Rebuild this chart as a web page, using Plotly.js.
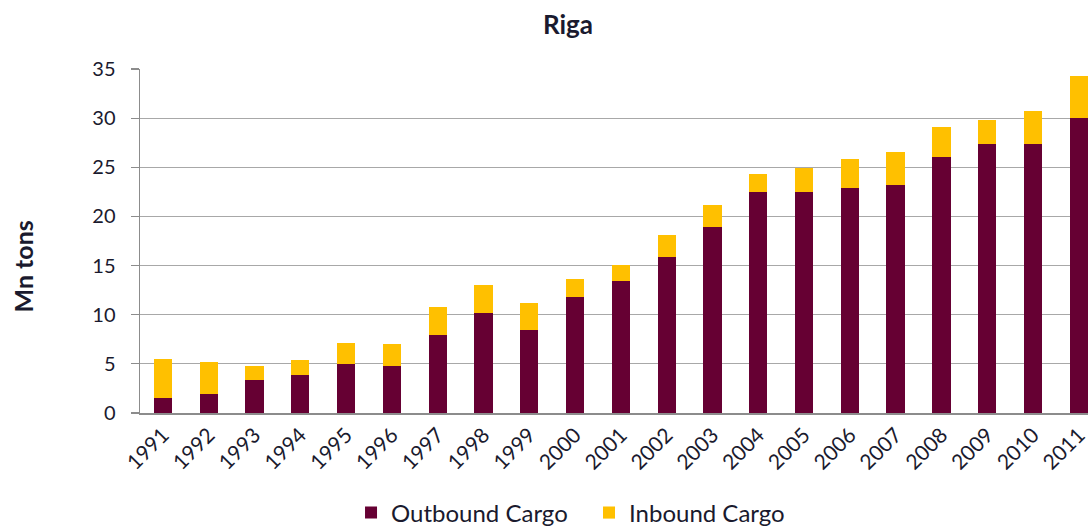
<!DOCTYPE html>
<html>
<head>
<meta charset="utf-8">
<script src="https://cdn.plot.ly/plotly-3.0.1.min.js"></script>
<style>
  html, body { margin: 0; padding: 0; background: #ffffff; }
  #chart { width: 1088px; height: 526px; }
</style>
</head>
<body>
<div id="chart"></div>
<script>
// Riga port cargo turnover, million tons
const years = ['1991','1992','1993','1994','1995','1996','1997','1998','1999','2000',
               '2001','2002','2003','2004','2005','2006','2007','2008','2009','2010','2011'];
const outboundCargo = [1.5, 1.9, 3.4, 3.9, 5.0, 4.8, 7.9, 10.2, 8.4, 11.8,
                       13.4, 15.9, 18.9, 22.5, 22.5, 22.9, 23.2, 26.0, 27.4, 27.4, 30.0];
const inboundCargo  = [4.0, 3.3, 1.4, 1.5, 2.1, 2.2, 2.9, 2.8, 2.8, 1.8,
                       1.7, 2.2, 2.3, 1.8, 2.4, 2.9, 3.4, 3.1, 2.4, 3.3, 4.3];
const yTicks = [0, 5, 10, 15, 20, 25, 30, 35];

const FONT = 'Lato, "Open Sans", sans-serif';
const TEXT = '#1a1a2e';

const traces = [
  {
    type: 'bar', name: 'Outbound Cargo', x: years, y: outboundCargo,
    marker: { color: '#660033' }, hoverinfo: 'x+y+name'
  },
  {
    type: 'bar', name: 'Inbound Cargo', x: years, y: inboundCargo,
    marker: { color: '#FFC000' }, hoverinfo: 'x+y+name'
  }
];

const layout = {
  width: 1088, height: 526,
  margin: { l: 140, r: 0, t: 69, b: 113 },
  paper_bgcolor: '#ffffff', plot_bgcolor: '#ffffff',
  barmode: 'stack', bargap: 0.6,
  font: { family: FONT, color: TEXT, size: 18 },
  title: {
    text: '<b>Riga</b>', font: { family: FONT, size: 26, color: TEXT },
    x: 0.522, xref: 'container', xanchor: 'center',
    y: 0.952, yref: 'container', yanchor: 'middle'
  },
  xaxis: {
    type: 'category', range: [-0.5, 20.2],
    tickangle: -45, tickfont: { size: 21, color: TEXT },
    showgrid: false, zeroline: false,
    showline: true, linecolor: '#8c8c8c', linewidth: 1.5,
    ticks: '', automargin: false
  },
  yaxis: {
    range: [0, 35], tickvals: yTicks,
    tickfont: { size: 20, color: TEXT },
    ticklabelstandoff: 11,
    showgrid: true, gridcolor: '#a8a8a8', gridwidth: 1.2,
    zeroline: false,
    showline: true, linecolor: '#8c8c8c', linewidth: 1.5,
    ticks: 'outside', ticklen: 8, tickcolor: '#8c8c8c', tickwidth: 1.2,
    automargin: false
  },
  annotations: [{
    text: '<b>Mn tons</b>', textangle: -90, showarrow: false,
    xref: 'paper', x: -0.123, xanchor: 'center',
    yref: 'paper', y: 0.427, yanchor: 'middle',
    font: { family: FONT, size: 25, color: TEXT }
  }],
  legend: {
    orientation: 'h', x: 0.2226, xanchor: 'left',
    yref: 'container', y: 0.0247, yanchor: 'middle',
    font: { family: FONT, size: 24, color: TEXT },
    traceorder: 'normal', itemwidth: 30, entrywidth: 193
  },
  showlegend: true
};

Plotly.newPlot('chart', traces, layout, { displayModeBar: false, staticPlot: true });
</script>
</body>
</html>
